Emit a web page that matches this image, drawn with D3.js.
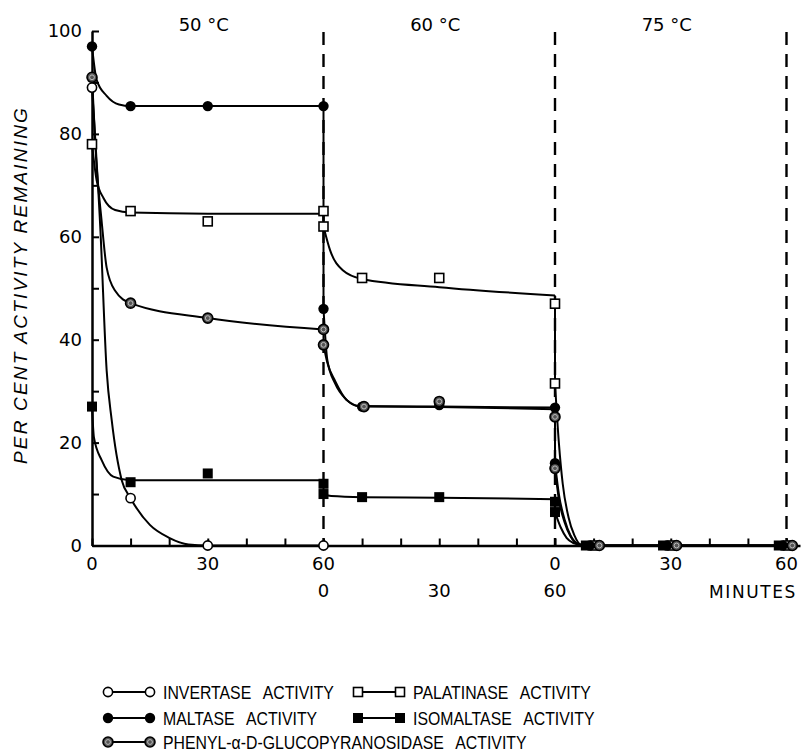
<!DOCTYPE html>
<html>
<head>
<meta charset="utf-8">
<script src="https://cdn.jsdelivr.net/npm/d3@7/dist/d3.min.js"></script>
<style>
  body { margin: 0; background: #fff; }
  text { font-family: "DejaVu Sans", sans-serif; fill: #000; }
</style>
</head>
<body>
<div id="chart"></div>
<script>
// Heat inactivation: three 60 min periods at 50, 60 and 75 degrees.
// Times are run-on minutes, 0..180 (period * 60 + minute).
var temps      = ["50 °C", "60 °C", "75 °C"];
var yTicks     = [0, 10, 20, 30, 40, 50, 60, 70, 80, 90, 100];
var yLabels    = [0, 20, 40, 60, 80, 100];
var xTicks     = d3.range(0, 181, 10);
var xRow1      = [[0, "0"], [30, "30"], [60, "60"], [120, "0"], [150, "30"], [180, "60"]];
var xRow2      = [[60, "0"], [90, "30"], [120, "60"]];

// measured points [minute, per cent]
var invertasePts   = [[0, 89], [10, 9.2], [30, 0], [60, 0]];
var maltasePts     = [[0, 97], [10, 85.4], [30, 85.4], [60, 85.4], [60, 46], [70, 27],
                      [90, 27.3], [120, 26.8], [120, 16], [129, 0], [149, 0], [179, 0]];
var phenylPts      = [[0, 91], [10, 47.1], [30, 44.2], [60, 42], [60, 39], [70.5, 27],
                      [90, 28], [120, 25], [120, 15], [131.5, 0], [151.5, 0], [181.5, 0]];
var palatinasePts  = [[0, 78], [10, 65], [30, 63], [60, 65], [60, 62], [70, 52],
                      [90, 52], [120, 47], [120, 31.5], [130.5, 0], [150.5, 0], [180.5, 0]];
var isomaltasePts  = [[0, 27], [10, 12.3], [30, 14], [60, 12], [60, 10], [70, 9.4],
                      [90, 9.4], [120, 8.5], [120, 6.5], [128, 0], [148, 0], [178, 0]];

// hand drawn curves, one piece per heating period
var invertaseCurve  = [[[0, 89], [2.2, 61], [3.8, 34], [5.1, 24.4], [7.7, 12.7], [10, 9.2],
                        [15, 4], [20, 1.5], [25, 0.2], [30, 0], [60, 0]]];
var maltaseCurve    = [[[0, 97], [1.2, 90.5], [3.8, 87.4], [7, 85.7], [10, 85.4], [60, 85.4]],
                       [[60, 46], [61, 36], [63, 31.5], [66, 28.3], [69, 27.1], [90, 27], [120, 26.8]],
                       [[120, 16], [121, 10], [122.5, 5], [124, 2], [126, 0.3], [128, 0], [180, 0]]];
var phenylCurve     = [[[0, 91], [1, 76], [2.5, 63], [3.8, 54], [6, 49.5], [10, 47.1], [30, 44.2], [60, 42]],
                       [[60, 39], [61, 35.5], [63, 32], [66, 28.3], [70, 27], [90, 26.9], [120, 26.5]],
                       [[120, 15], [121, 9], [122.5, 4.5], [124, 1.8], [126, 0.3], [128, 0], [180, 0]]];
var palatinaseCurve = [[[0, 78], [1.2, 71], [3, 67.5], [6, 65.2], [10, 64.7], [30, 64.5], [60, 64.5]],
                       [[60, 62], [61.7, 57.4], [65, 53.5], [70, 51.8], [90, 50.2], [120, 48.6]],
                       [[120, 31.5], [121, 20], [122, 12], [123.5, 5.5], [125, 2], [127, 0], [180, 0]]];
var isomaltaseCurve = [[[0, 27], [0.5, 21], [2.5, 16.6], [5.5, 13.4], [10, 12.7], [60, 12.7]],
                       [[60, 10], [62, 9.6], [70, 9.4], [90, 9.3], [120, 9]],
                       [[120, 6.5], [121.5, 3.5], [123, 1.5], [125, 0.4], [127, 0], [180, 0]]];

var series = [
    { name: "INVERTASE ACTIVITY",  marker: "openCircle",   pts: invertasePts,  curve: invertaseCurve },
    { name: "PALATINASE ACTIVITY", marker: "openSquare",   pts: palatinasePts, curve: palatinaseCurve },
    { name: "MALTASE ACTIVITY",    marker: "filledCircle", pts: maltasePts,    curve: maltaseCurve },
    { name: "ISOMALTASE ACTIVITY", marker: "filledSquare", pts: isomaltasePts, curve: isomaltaseCurve },
    { name: "PHENYL-\u03b1-D-GLUCOPYRANOSIDASE ACTIVITY", marker: "ringCircle", pts: phenylPts, curve: phenylCurve }
];

var width = 803, height = 753;

var svg = d3.select("#chart").append("svg")
    .attr("width", width)
    .attr("height", height);

var x = d3.scaleLinear().domain([0, 183.5]).range([92, 800]);
var y = d3.scaleLinear().domain([0, 100]).range([545.5, 31]);

// dashed period boundaries
svg.selectAll("line.period")
    .data([60, 120, 180])
    .enter().append("line")
    .attr("class", "period")
    .attr("x1", function(d) { return x(d); })
    .attr("x2", function(d) { return x(d); })
    .attr("y1", 32)
    .attr("y2", y(0))
    .attr("stroke", "#000")
    .attr("stroke-width", 2.4)
    .attr("stroke-dasharray", "13,9");

// temperature headings
svg.selectAll("text.temp")
    .data(temps)
    .enter().append("text")
    .attr("class", "temp")
    .attr("x", function(d, i) { return x(i * 60 + 30) - 4; })
    .attr("y", 31)
    .attr("text-anchor", "middle")
    .style("font-size", "18px")
    .text(function(d) { return d; });

// axes
var yAxis = svg.append("g")
    .attr("transform", "translate(" + x(0) + ",0)")
    .call(d3.axisLeft(y).tickValues(yTicks)
        .tickSizeInner(-7).tickSizeOuter(0).tickPadding(10)
        .tickFormat(function(d) { return yLabels.indexOf(d) >= 0 ? d : ""; }));
yAxis.select(".domain").attr("stroke-width", 2.5);
yAxis.selectAll(".tick line").attr("stroke-width", 2);
yAxis.selectAll(".tick text").style("font-size", "18px")
    .style("font-family", "DejaVu Sans, sans-serif");

var xAxis = svg.append("g")
    .attr("transform", "translate(0," + y(0) + ")")
    .call(d3.axisBottom(x).tickValues(xTicks)
        .tickSizeInner(-7).tickSizeOuter(0).tickFormat(""));
xAxis.select(".domain").attr("stroke-width", 2.5);
xAxis.selectAll(".tick line").attr("stroke-width", 2);

svg.selectAll("text.xrow1")
    .data(xRow1)
    .enter().append("text")
    .attr("class", "xrow1")
    .attr("x", function(d) { return x(d[0]); })
    .attr("y", 570)
    .attr("text-anchor", "middle")
    .style("font-size", "18px")
    .text(function(d) { return d[1]; });

svg.selectAll("text.xrow2")
    .data(xRow2)
    .enter().append("text")
    .attr("class", "xrow2")
    .attr("x", function(d) { return x(d[0]); })
    .attr("y", 597)
    .attr("text-anchor", "middle")
    .style("font-size", "18px")
    .text(function(d) { return d[1]; });

svg.append("text")
    .attr("x", 797)
    .attr("y", 598)
    .attr("text-anchor", "end")
    .style("font-size", "17px")
    .style("letter-spacing", "1.6px")
    .text("MINUTES");

// y axis title
svg.append("text")
    .attr("transform", "translate(27," + 285 + ") rotate(-90)")
    .attr("text-anchor", "middle")
    .style("font-family", "Liberation Sans, Arial, sans-serif")
    .style("font-size", "19px")
    .style("font-style", "italic")
    .style("letter-spacing", "2.2px")
    .text("PER CENT ACTIVITY REMAINING");

// curves
var line = d3.line()
    .x(function(d) { return x(d[0]); })
    .y(function(d) { return y(d[1]); })
    .curve(d3.curveMonotoneX);
var straight = d3.line()
    .x(function(d) { return x(d[0]); })
    .y(function(d) { return y(d[1]); });

var lines = svg.append("g");
series.forEach(function(s) {
    s.curve.forEach(function(piece, i) {
        lines.append("path")
            .datum(piece)
            .attr("d", line)
            .attr("fill", "none")
            .attr("stroke", "#000")
            .attr("stroke-width", 2);
        if (i > 0) {
            var prev = s.curve[i - 1];
            lines.append("path")
                .datum([prev[prev.length - 1], piece[0]])
                .attr("d", straight)
                .attr("fill", "none")
                .attr("stroke", "#000")
                .attr("stroke-width", 2);
        }
    });
});

// markers
function drawMarker(g, type, cx, cy) {
    if (type === "openCircle") {
        g.append("circle").attr("cx", cx).attr("cy", cy).attr("r", 4.6)
            .attr("fill", "#fff").attr("stroke", "#000").attr("stroke-width", 1.6);
    } else if (type === "filledCircle") {
        g.append("circle").attr("cx", cx).attr("cy", cy).attr("r", 5.2)
            .attr("fill", "#000");
    } else if (type === "ringCircle") {
        g.append("circle").attr("cx", cx).attr("cy", cy).attr("r", 5)
            .attr("fill", "#555").attr("stroke", "#000").attr("stroke-width", 1.6);
        g.append("circle").attr("cx", cx).attr("cy", cy).attr("r", 2.4)
            .attr("fill", "none").attr("stroke", "#bbb").attr("stroke-width", 1);
    } else if (type === "openSquare") {
        g.append("rect").attr("x", cx - 4.5).attr("y", cy - 4.5)
            .attr("width", 9).attr("height", 9)
            .attr("fill", "#fff").attr("stroke", "#000").attr("stroke-width", 1.6);
    } else if (type === "filledSquare") {
        g.append("rect").attr("x", cx - 5).attr("y", cy - 5)
            .attr("width", 10).attr("height", 10)
            .attr("fill", "#000");
    }
}

var marks = svg.append("g");
series.forEach(function(s) {
    s.pts.forEach(function(p) {
        drawMarker(marks, s.marker, x(p[0]), y(p[1]));
    });
});

// legend, two columns then one long row
var legendPos = [[108, 692], [358, 692], [108, 718], [358, 718], [108, 742]];
var legend = svg.append("g");
series.forEach(function(s, i) {
    var lx = legendPos[i][0], ly = legendPos[i][1];
    legend.append("line")
        .attr("x1", lx).attr("x2", lx + 42)
        .attr("y1", ly).attr("y2", ly)
        .attr("stroke", "#000").attr("stroke-width", 2);
    drawMarker(legend, s.marker, lx, ly);
    drawMarker(legend, s.marker, lx + 42, ly);
    // lettering in the figure is tall and narrow
    legend.append("text")
        .attr("transform", "translate(" + (lx + 55) + "," + (ly + 6.5) + ") scale(0.88,1)")
        .style("font-family", "Liberation Sans, Arial, sans-serif")
        .style("font-size", "18px")
        .style("word-spacing", "9px")
        .text(s.name);
});
</script>
</body>
</html>
